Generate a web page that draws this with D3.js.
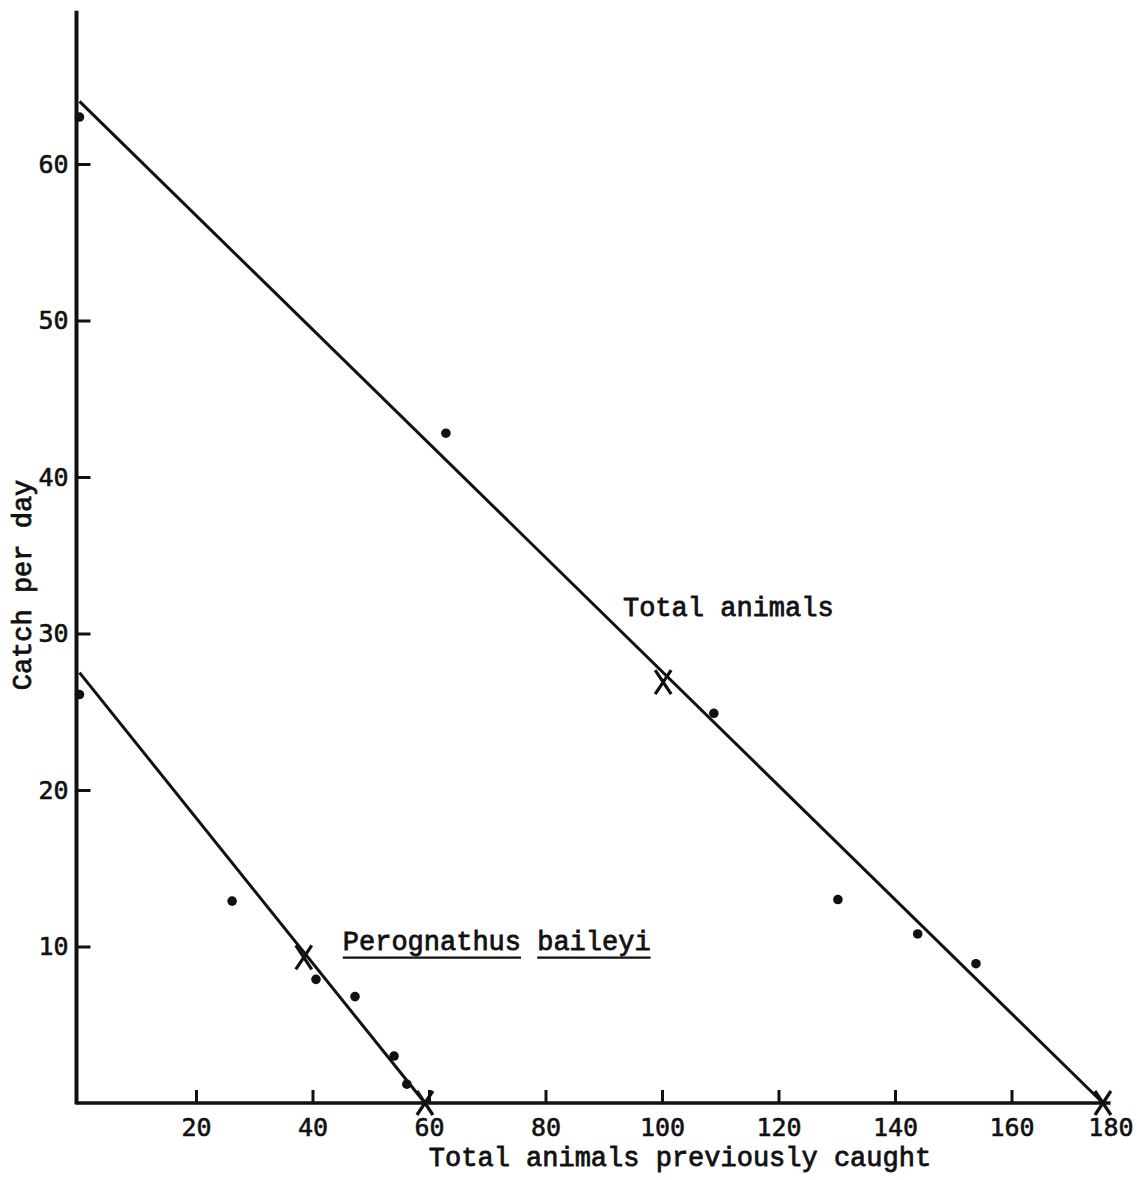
<!DOCTYPE html>
<html>
<head>
<meta charset="utf-8">
<script src="https://cdn.jsdelivr.net/npm/d3@7/dist/d3.min.js"></script>
<style>
  html, body { margin: 0; padding: 0; background: #fff; }
  svg { display: block; }
  .tick text { font-family: "DejaVu Sans Mono", monospace; font-size: 25px; fill: #111; stroke: #111; stroke-width: 0.6px; }
  .lbl { font-family: "Liberation Mono", "Courier New", monospace; font-size: 27px; fill: #111; stroke: #111; stroke-width: 0.8px; }
</style>
</head>
<body>
<script>
// Removal-trapping plot: catch per day against animals already caught.
const xTicks = [20, 40, 60, 80, 100, 120, 140, 160, 180];
const yTicks = [10, 20, 30, 40, 50, 60];

// Observed daily catches [previously caught, catch per day]
const totalPoints = [[0, 63], [62.9, 42.8], [108.9, 24.9], [130.2, 13.0], [143.9, 10.8], [153.9, 8.9]];
const perogPoints = [[0, 26.1], [26.2, 12.9], [40.6, 7.9], [47.3, 6.8], [54.0, 3.0], [56.2, 1.2]];

// Fitted regression lines (intercepts on both axes)
const totalFit = [[0, 64], [175.7, 0]];
const perogFit = [[0, 27.5], [59.3, 0]];

// Reference points marked with a cross
const totalCross = [[100.2, 26.9], [175.7, 0]];
const perogCross = [[38.5, 9.3], [59.3, 0]];

const W = 1147, H = 1180;
const svg = d3.select("body").append("svg").attr("width", W).attr("height", H);

const x = d3.scaleLinear().domain([0, 180]).range([79.5, 1128]);
const y = d3.scaleLinear().domain([0, 70]).range([1103, 7.5]);
const x0 = x(0) - 3;

// X axis ticks and labels
const gx = svg.append("g").attr("transform", `translate(0,${y(0)})`)
  .call(d3.axisBottom(x).tickValues(xTicks).tickFormat(d3.format("d"))
    .tickSizeInner(-13).tickSizeOuter(0).tickPadding(15));
gx.select(".domain").remove();
gx.selectAll(".tick line").attr("stroke", "#111").attr("stroke-width", 3)
  .filter(d => d > totalFit[1][0]).remove();
gx.selectAll(".tick text").each(function (d) {
  const w = this.getComputedTextLength();
  const px = x(d);
  const lim = W - 14 - w / 2;
  if (px > lim) d3.select(this).attr("x", lim - px);
});

// Y axis ticks and labels
const gy = svg.append("g").attr("transform", `translate(${x0},0)`)
  .call(d3.axisLeft(y).tickValues(yTicks).tickFormat(d3.format("d"))
    .tickSizeInner(-14).tickSizeOuter(0).tickPadding(8));
gy.select(".domain").remove();
gy.selectAll(".tick line").attr("stroke", "#111").attr("stroke-width", 3);

// Axis lines
svg.append("line").attr("x1", x0).attr("x2", x0).attr("y1", y(69.8)).attr("y2", y(0) + 1.5)
  .attr("stroke", "#111").attr("stroke-width", 4);
svg.append("line").attr("x1", x0).attr("x2", x(177)).attr("y1", y(0)).attr("y2", y(0))
  .attr("stroke", "#111").attr("stroke-width", 3.5);

// Fitted lines
const line = d3.line().x(d => x(d[0])).y(d => y(d[1]));
[totalFit, perogFit].forEach(f => {
  svg.append("path").attr("d", line(f)).attr("fill", "none")
    .attr("stroke", "#111").attr("stroke-width", 3);
});

// Observed points
svg.append("g").selectAll("circle").data(totalPoints.concat(perogPoints)).join("circle")
  .attr("cx", d => x(d[0])).attr("cy", d => y(d[1])).attr("r", 4.8).attr("fill", "#111");

// Cross markers
const crossPath = "M-8,-12L8,12M8,-12L-8,12";
svg.append("g").selectAll("path").data(totalCross.concat(perogCross)).join("path")
  .attr("transform", d => `translate(${x(d[0])},${y(d[1])})`)
  .attr("d", crossPath).attr("fill", "none").attr("stroke", "#111").attr("stroke-width", 3.2);

// Axis titles
svg.append("text").attr("class", "lbl").attr("x", 680).attr("y", 1166)
  .attr("text-anchor", "middle").text("Total animals previously caught");
svg.append("text").attr("class", "lbl")
  .attr("transform", "translate(31,585) rotate(-90)")
  .attr("text-anchor", "middle").text("Catch per day");

// Series labels
svg.append("text").attr("class", "lbl").attr("x", x(93.3)).attr("y", y(31.1)).text("Total animals");

const pl = svg.append("text").attr("class", "lbl").attr("x", x(45.2)).attr("y", y(9.8))
  .text("Perognathus baileyi");
const plNode = pl.node();
const ulY = y(9.8) + 8;
[[0, 11], [12, 7]].forEach(([s, n]) => {
  const sx = plNode.getStartPositionOfChar(s).x;
  const len = plNode.getSubStringLength(s, n);
  svg.append("line").attr("x1", sx).attr("x2", sx + len).attr("y1", ulY).attr("y2", ulY)
    .attr("stroke", "#111").attr("stroke-width", 2.2);
});
</script>
</body>
</html>
